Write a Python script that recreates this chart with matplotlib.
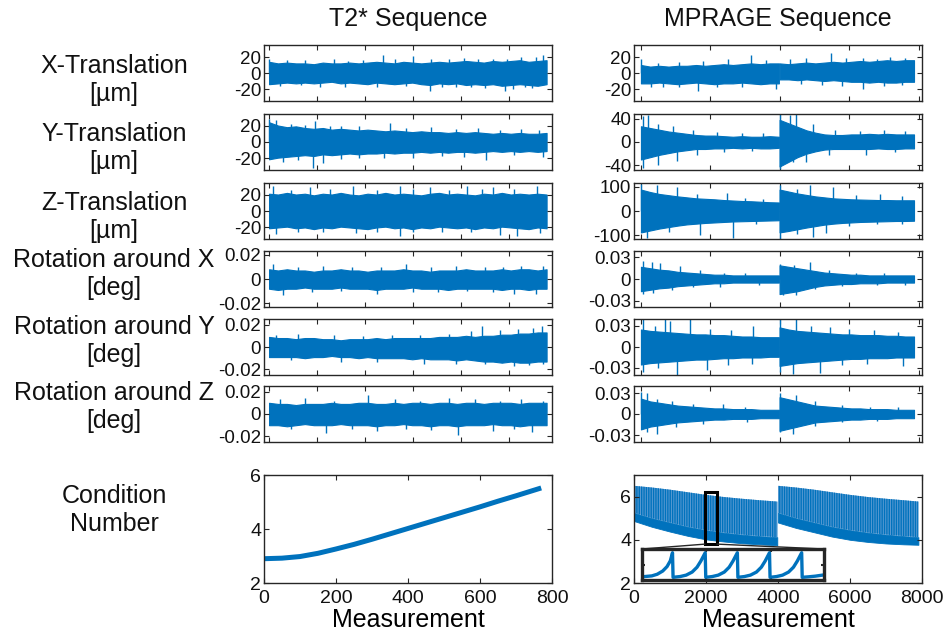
import numpy as np
import matplotlib
matplotlib.use('Agg')
import matplotlib.pyplot as plt
from matplotlib.patches import Rectangle, ConnectionPatch

plt.rcParams['font.family'] = ['Liberation Sans', 'DejaVu Sans']
plt.rcParams['hatch.linewidth'] = 1.0
BLUE = '#0072BD'
DARK = '#262626'
W, H = 945, 642

col_titles = ['T2* Sequence', 'MPRAGE Sequence']
row_labels = ['X-Translation\n[µm]', 'Y-Translation\n[µm]', 'Z-Translation\n[µm]',
              'Rotation around X\n[deg]', 'Rotation around Y\n[deg]',
              'Rotation around Z\n[deg]', 'Condition\nNumber']

# ---- T2* motion: dense core of the trace (32 knots over 0-770) + single spikes ----
t2_x_up = [14, 12, 13, 12, 12, 11, 13, 12, 12, 13, 12, 13, 14, 13, 12, 14,
           13, 12, 13, 14, 13, 14, 15, 14, 13, 15, 14, 15, 16, 14, 15, 16]
t2_x_lo = [-14, -13, -12, -13, -12, -13, -12, -11, -13, -12, -13, -14, -12, -13, -14, -13,
           -12, -14, -15, -13, -14, -13, -15, -14, -15, -14, -16, -15, -14, -15, -16, -14]
t2_x_sx = [0, 50, 100, 180, 220, 260, 316, 350, 400, 450, 500, 540, 580, 620, 660, 700, 740, 761,
           30, 90, 140, 210, 300, 380, 446, 480, 520, 560, 600, 654, 677, 710, 730]
t2_x_sy = [18, 16, 16, 17, 15, 16, 22, 18, 21, 17, 17, 19, 18, 17, 18, 20, 20, 23,
           -16, -15, -17, -17, -17, -16, -22, -18, -18, -17, -19, -22, -20, -18, -19]

t2_y_up = [24, 20, 18, 19, 17, 16, 17, 15, 16, 15, 14, 15, 14, 13, 14, 13,
           12, 13, 12, 12, 11, 12, 11, 12, 11, 10, 11, 10, 11, 10, 10, 11]
t2_y_lo = [-21, -19, -18, -17, -16, -17, -15, -16, -15, -14, -15, -14, -14, -13, -14, -13,
           -13, -12, -13, -12, -13, -12, -12, -13, -12, -11, -12, -11, -12, -11, -12, -11]
t2_y_sx = [0, 20, 60, 100, 127, 170, 200, 250, 335, 380, 450, 520, 580, 640, 700, 750,
           40, 80, 122, 150, 200, 250, 320, 400, 480, 540, 603, 680, 761]
t2_y_sy = [28, 27, 22, 21, 25, 20, 20, 19, 23, 17, 18, 16, 17, 15, 16, 14,
           -24, -22, -31, -25, -21, -20, -19, -19, -17, -18, -22, -16, -18]

t2_z_up = [21, 20, 22, 20, 21, 19, 21, 20, 22, 20, 19, 21, 20, 22, 20, 21,
           20, 19, 21, 22, 20, 21, 20, 19, 21, 20, 22, 20, 21, 20, 21, 20]
t2_z_lo = [-21, -20, -19, -21, -20, -22, -20, -21, -19, -20, -21, -22, -20, -19, -21, -20,
           -22, -20, -21, -19, -20, -21, -20, -22, -20, -21, -19, -20, -21, -22, -20, -21]
t2_z_sx = [11, 60, 113, 170, 233, 300, 363, 400, 446, 500, 548, 590, 622, 680, 742,
           20, 80, 150, 242, 300, 363, 400, 480, 560, 640, 687, 751]
t2_z_sy = [30, 26, 29, 27, 30, 26, 30, 27, 29, 26, 30, 27, 29, 27, 30,
           -28, -26, -25, -27, -25, -30, -26, -25, -26, -29, -30, -27]

t2_rx_up = [8, 7, 8, 7, 7, 6, 7, 7, 8, 7, 7, 6, 7, 7, 7, 8,
            7, 7, 6, 7, 7, 7, 8, 7, 7, 7, 8, 7, 8, 8, 7, 8]
t2_rx_lo = [-8, -9, -8, -8, -7, -8, -8, -8, -7, -8, -8, -8, -9, -8, -8, -8,
            -7, -8, -8, -8, -9, -8, -8, -8, -8, -8, -9, -8, -8, -9, -8, -8]
t2_rx_sx = [10, 80, 150, 230, 310, 380, 450, 520, 600, 650, 700, 760,
            39, 120, 200, 300, 400, 470, 550, 620, 680, 740]
t2_rx_sy = [12, 10, 11, 10, 10, 12, 10, 11, 10, 10, 11, 11,
            -13, -11, -10, -12, -11, -11, -10, -11, -12, -12]

t2_ry_up = [9, 8, 8, 7, 8, 8, 7, 7, 6, 7, 7, 7, 8, 7, 8, 8,
            8, 8, 8, 9, 9, 9, 10, 9, 10, 10, 11, 11, 12, 12, 13, 13]
t2_ry_lo = [-9, -9, -9, -9, -10, -9, -9, -8, -9, -9, -10, -9, -10, -10, -10, -10,
            -11, -10, -11, -11, -11, -12, -11, -12, -13, -13, -14, -13, -14, -14, -13, -13]
t2_ry_sx = [20, 80, 180, 260, 340, 420, 500, 560, 590, 640, 690, 733, 756,
            60, 200, 300, 430, 520, 600, 680, 720, 760]
t2_ry_sy = [11, 12, 11, 10, 11, 11, 12, 14, 19, 15, 16, 17, 19,
            -12, -13, -13, -15, -15, -15, -17, -16, -15]

t2_rz_up = [10, 9, 9, 8, 9, 9, 9, 10, 9, 9, 10, 10, 9, 9, 10, 9,
            10, 10, 9, 10, 10, 9, 10, 10, 9, 10, 10, 10, 9, 10, 10, 10]
t2_rz_lo = [-10, -10, -11, -10, -9, -10, -10, -10, -9, -10, -10, -10, -11, -10, -10, -9,
            -10, -10, -11, -10, -10, -11, -10, -10, -10, -9, -10, -10, -11, -10, -10, -10]
t2_rz_sx = [30, 100, 180, 275, 350, 420, 500, 570, 640, 700, 760,
            60, 159, 230, 300, 380, 450, 525, 620, 680, 730]
t2_rz_sy = [13, 14, 12, 17, 13, 12, 14, 13, 12, 13, 12,
            -13, -17, -13, -15, -13, -14, -19, -15, -13, -16]

# ---- MPRAGE motion: core over two halves (16 knots each) + spikes ----
mp_x_up = [10, 8, 9, 8, 9, 9, 10, 9, 10, 11, 10, 11, 12, 11, 12, 12,
           12, 11, 12, 13, 12, 13, 14, 13, 14, 15, 14, 15, 16, 15, 16, 16]
mp_x_lo = [-13, -13, -12, -13, -14, -13, -12, -13, -14, -13, -13, -12, -13, -14, -13, -13,
           -8, -8, -9, -8, -9, -10, -9, -10, -11, -11, -12, -11, -12, -12, -11, -11]
mp_x_sx = [0, 500, 1100, 1800, 2511, 3182, 3600, 4300, 4764, 5483, 5900, 6393, 6800, 7160, 7600,
           300, 642, 1100, 1649, 2200, 2900, 3901, 4600, 5200, 5800, 6393, 7000, 7500]
mp_x_sy = [18, 13, 14, 15, 18, 22, 16, 17, 19, 25, 19, 19, 18, 20, 19,
           -17, -18, -17, -22, -17, -18, -20, -14, -15, -16, -20, -16, -15]

mp_y_up = [27, 24, 21, 18, 16, 14, 12, 11, 11, 10, 9, 10, 9, 9, 10, 9,
           38, 32, 26, 20, 16, 13, 12, 12, 13, 13, 14, 13, 14, 13, 13, 13]
mp_y_lo = [-30, -26, -22, -19, -16, -14, -12, -12, -11, -11, -10, -11, -10, -11, -11, -10,
           -42, -34, -26, -20, -16, -13, -12, -12, -12, -12, -12, -11, -12, -12, -11, -11]
mp_y_sx = [67, 211, 500, 930, 1500, 2200, 2900, 3500, 3997, 4285, 4476, 4956, 5600, 6300, 7000, 7600,
           67, 498, 1025, 1600, 2400, 3200, 3997, 4380, 4764, 5400, 6489, 7300]
mp_y_sy = [45, 46, 30, 28, 20, 17, 16, 15, 48, 47, 48, 30, 20, 19, 20, 18,
           -44, -40, -32, -22, -18, -16, -47, -35, -35, -22, -22, -18]

mp_z_up = [88, 78, 70, 65, 60, 56, 52, 50, 48, 45, 43, 41, 40, 38, 36, 35,
           88, 80, 72, 66, 60, 56, 52, 50, 48, 47, 46, 45, 45, 44, 44, 44]
mp_z_lo = [-88, -80, -72, -66, -60, -55, -52, -49, -47, -45, -43, -42, -41, -40, -39, -38,
           -88, -82, -75, -68, -62, -56, -52, -49, -47, -45, -44, -43, -42, -41, -41, -40]
mp_z_sx = [0, 450, 1025, 1600, 2463, 3000, 3500, 3997, 4500, 4860, 5531, 6200, 6873, 7500,
           163, 800, 1697, 2655, 3300, 3997, 4500, 4956, 5340, 6000, 6800, 7500]
mp_z_sy = [110, 105, 100, 70, 75, 55, 50, 108, 90, 105, 100, 65, 70, 60,
           -110, -85, -100, -110, -55, -115, -95, -108, -90, -60, -55, -55]

mp_rx_up = [17, 15, 13, 12, 10, 9, 8, 7, 6, 6, 5, 5, 5, 5, 5, 5,
            19, 17, 15, 13, 11, 9, 8, 7, 6, 6, 5, 5, 5, 5, 5, 5]
mp_rx_lo = [-17, -15, -13, -12, -10, -9, -8, -7, -6, -6, -5, -5, -5, -5, -5, -5,
            -21, -19, -17, -14, -11, -9, -8, -7, -7, -6, -6, -6, -5, -5, -5, -5]
mp_rx_sx = [67, 307, 546, 1121, 1700, 2400, 3000, 3997, 4400, 4860, 5400, 6200, 7000,
            67, 355, 900, 1500, 2272, 3400, 4100, 4476, 5000, 5800, 6800, 7600]
mp_rx_sy = [25, 24, 22, 18, 12, 9, 8, 21, 20, 24, 12, 9, 8,
            -21, -19, -15, -11, -11, -8, -22, -22, -14, -10, -8, -8]

mp_ry_up = [25, 23, 22, 21, 20, 19, 18, 18, 17, 17, 16, 15, 15, 14, 14, 14,
            28, 25, 23, 22, 21, 20, 19, 18, 18, 17, 17, 17, 16, 16, 15, 15]
mp_ry_lo = [-25, -23, -22, -21, -20, -19, -18, -18, -17, -16, -16, -15, -15, -15, -14, -14,
            -27, -25, -23, -22, -21, -20, -19, -18, -17, -17, -16, -16, -16, -15, -15, -15]
mp_ry_sx = [67, 400, 690, 834, 1409, 2000, 2600, 3230, 3997, 4476, 4900, 5435, 6000, 6700, 7400,
            67, 500, 1025, 1888, 2500, 3200, 3997, 4380, 5147, 5800, 6500, 7544]
mp_ry_sy = [40, 30, 40, 37, 40, 26, 25, 30, 40, 40, 30, 28, 26, 24, 22,
            -35, -30, -40, -33, -26, -24, -35, -38, -37, -26, -24, -27]

mp_rz_up = [22, 18, 16, 14, 12, 11, 10, 9, 8, 8, 7, 7, 7, 6, 6, 6,
            24, 21, 18, 15, 12, 11, 10, 9, 8, 8, 7, 7, 7, 6, 6, 6]
mp_rz_lo = [-22, -18, -16, -14, -12, -11, -10, -9, -8, -8, -7, -7, -7, -6, -6, -6,
            -24, -21, -18, -15, -12, -11, -10, -9, -8, -8, -7, -7, -7, -6, -6, -6]
mp_rz_sx = [0, 163, 450, 900, 1500, 2368, 3000, 3997, 4476, 5000, 5800, 6600, 7400,
            163, 450, 1000, 1800, 3039, 3997, 4380, 5000, 5800, 6800]
mp_rz_sy = [32, 30, 22, 18, 15, 14, 10, 30, 27, 18, 13, 10, 10,
            -26, -29, -18, -14, -12, -26, -28, -17, -12, -10]

# ---- condition number ----
t2_cond_x = [0, 50, 100, 150, 200, 250, 300, 350, 400, 450, 500, 550, 600, 650, 700, 770]
t2_cond_y = [2.90, 2.92, 2.98, 3.10, 3.26, 3.43, 3.62, 3.82, 4.02, 4.22, 4.42, 4.62, 4.82, 5.03, 5.23, 5.52]

mp_cond_x = [0, 500, 1000, 1500, 2000, 2500, 3000, 3500, 3980,
             4000, 4500, 5000, 5500, 6000, 6500, 7000, 7500, 7900]
mp_cond_top = [6.50, 6.42, 6.32, 6.20, 6.08, 5.98, 5.90, 5.83, 5.77,
               6.50, 6.42, 6.32, 6.20, 6.08, 5.98, 5.90, 5.83, 5.77]
mp_cond_mid = [5.25, 5.00, 4.80, 4.60, 4.45, 4.33, 4.24, 4.17, 4.12,
               5.25, 5.00, 4.80, 4.60, 4.45, 4.33, 4.24, 4.17, 4.12]
mp_cond_bot = [4.87, 4.60, 4.38, 4.18, 4.02, 3.92, 3.84, 3.79, 3.75,
               4.80, 4.55, 4.35, 4.15, 4.00, 3.90, 3.83, 3.79, 3.77]

# zoomed-in window of the MPRAGE condition number (inset)
zoom_x = [1972, 2306]
zoom_y = [3.80, 6.22]
inset_x = [1972, 1990, 2000, 2010, 2018, 2024, 2028,
           2029, 2042, 2053, 2064, 2073, 2080, 2088,
           2089, 2101, 2112, 2123, 2132, 2139, 2147,
           2148, 2160, 2171, 2182, 2191, 2198, 2206,
           2207, 2219, 2230, 2241, 2250, 2257, 2265,
           2266, 2278, 2290, 2303]
inset_y = [4.05, 4.12, 4.25, 4.50, 4.85, 5.30, 5.93,
           4.01, 4.07, 4.18, 4.42, 4.80, 5.28, 5.93,
           4.01, 4.07, 4.18, 4.42, 4.80, 5.28, 5.93,
           4.01, 4.07, 4.18, 4.42, 4.80, 5.28, 5.93,
           4.01, 4.07, 4.18, 4.42, 4.80, 5.28, 5.93,
           4.01, 4.05, 4.10, 4.18]

left_rows = [(t2_x_up, t2_x_lo, t2_x_sx, t2_x_sy), (t2_y_up, t2_y_lo, t2_y_sx, t2_y_sy),
             (t2_z_up, t2_z_lo, t2_z_sx, t2_z_sy), (t2_rx_up, t2_rx_lo, t2_rx_sx, t2_rx_sy),
             (t2_ry_up, t2_ry_lo, t2_ry_sx, t2_ry_sy), (t2_rz_up, t2_rz_lo, t2_rz_sx, t2_rz_sy)]
right_rows = [(mp_x_up, mp_x_lo, mp_x_sx, mp_x_sy), (mp_y_up, mp_y_lo, mp_y_sx, mp_y_sy),
              (mp_z_up, mp_z_lo, mp_z_sx, mp_z_sy), (mp_rx_up, mp_rx_lo, mp_rx_sx, mp_rx_sy),
              (mp_ry_up, mp_ry_lo, mp_ry_sx, mp_ry_sy), (mp_rz_up, mp_rz_lo, mp_rz_sx, mp_rz_sy)]
row_scale = [1, 1, 1, 1e-3, 1e-3, 1e-3]

left_ylim = [35, 34, 34, 0.023, 0.025, 0.025]
right_ylim = [35, 48, 115, 0.039, 0.04, 0.04]
left_yt = [(20, ['-20', '0', '20'])] * 3 + [(0.02, ['-0.02', '0', '0.02'])] * 3
right_yt = [(20, ['-20', '0', '20']), (40, ['-40', '0', '40']), (100, ['-100', '0', '100'])] \
    + [(0.03, ['-0.03', '0', '0.03'])] * 3

row_top = [45, 114, 183, 251, 319, 386]
row_h = 56
label_y = [80, 148, 217, 274, 341, 407, 510]
col_left = [264, 634]
col_w = 288


def style(ax, labelsize=13.5, pad=2):
    ax.tick_params(direction='in', length=3.5, width=0.8, top=True, right=True,
                   labelsize=labelsize, color=DARK, labelcolor='#111111', pad=pad)
    for s in ax.spines.values():
        s.set_color(DARK)
        s.set_linewidth(1.0)


def add_axes(left, top, width, height):
    return fig.add_axes([left / W, 1 - (top + height) / H, width / W, height / H])


def draw_trace(ax, kx, up, lo, sx, sy, s):
    ax.fill_between(kx, np.array(lo) * s, np.array(up) * s, facecolor=BLUE,
                    edgecolor=BLUE, lw=0.8)
    ax.vlines(sx, 0, np.array(sy) * s, color=BLUE, lw=1.0)


fig = plt.figure(figsize=(W / 100, H / 100), dpi=100)

kx_left = np.linspace(0, 770, 32)
kx_right = np.concatenate([np.linspace(0, 3970, 16), np.linspace(3990, 7860, 16)])

for r in range(6):
    s = row_scale[r]
    # T2*
    ax = add_axes(col_left[0], row_top[r], col_w, row_h)
    draw_trace(ax, kx_left, *left_rows[r], s)
    ax.set_xlim(-14, 785)
    ax.set_xticks(np.arange(0, 770, 133.3))
    ax.set_xticklabels([])
    ax.set_ylim(-left_ylim[r], left_ylim[r])
    v, labs = left_yt[r]
    ax.set_yticks([-v, 0, v])
    ax.set_yticklabels(labs)
    style(ax)

    # MPRAGE
    ax = add_axes(col_left[1], row_top[r], col_w, row_h)
    up, lo, sx, sy = right_rows[r]
    draw_trace(ax, kx_right[:16], up[:16], lo[:16], [], [], s)
    draw_trace(ax, kx_right[16:], up[16:], lo[16:], sx, sy, s)
    ax.set_xlim(-200, 8090)
    ax.set_xticks([0, 2000, 4000, 6000, 8000])
    ax.set_xticklabels([])
    ax.set_ylim(-right_ylim[r], right_ylim[r])
    v, labs = right_yt[r]
    ax.set_yticks([-v, 0, v])
    ax.set_yticklabels(labs)
    style(ax)

# condition number, T2*
ax = add_axes(col_left[0], 475, col_w, 108)
ax.plot(t2_cond_x, t2_cond_y, color=BLUE, lw=3.6, solid_capstyle='butt')
ax.set_xlim(0, 800)
ax.set_ylim(2, 6)
ax.set_xticks([0, 200, 400, 600, 800])
ax.set_yticks([2, 4, 6])
ax.set_xlabel('Measurement', fontsize=18, labelpad=1)
style(ax, labelsize=14, pad=5)
ax.tick_params(axis='y', pad=2)

# condition number, MPRAGE
ax = add_axes(col_left[1], 475, col_w, 108)
mx = np.array(mp_cond_x)
for seg in (slice(0, 9), slice(9, 18)):
    ax.fill_between(mx[seg], np.array(mp_cond_bot)[seg], np.array(mp_cond_mid)[seg],
                    facecolor=BLUE, edgecolor=BLUE, lw=0.6)
    ax.fill_between(mx[seg], np.array(mp_cond_mid)[seg], np.array(mp_cond_top)[seg],
                    facecolor='#5a9ad2', edgecolor=BLUE, hatch='|' * 7, lw=0)
ax.set_xlim(0, 8000)
ax.set_ylim(2, 7)
ax.set_xticks([0, 2000, 4000, 6000, 8000])
ax.set_yticks([2, 4, 6])
ax.set_xlabel('Measurement', fontsize=18, labelpad=1)
style(ax, labelsize=14, pad=5)
ax.tick_params(axis='y', pad=2)

ax.add_patch(Rectangle((zoom_x[0], zoom_y[0]), zoom_x[1] - zoom_x[0], zoom_y[1] - zoom_y[0],
                       fill=False, ec='black', lw=2.2, zorder=5))

ins = add_axes(642, 549, 182, 31)
ins.plot(inset_x, inset_y, color=BLUE, lw=2.4)
ins.set_xlim(zoom_x)
ins.set_ylim(zoom_y)
ins.set_xticks([2090, 2208])
ins.set_yticks([5.0])
ins.set_xticklabels([])
ins.set_yticklabels([])
ins.tick_params(direction='in', length=2, width=1.5, top=True, right=True, color=DARK)
for sp in ins.spines.values():
    sp.set_color(DARK)
    sp.set_linewidth(2.4)

for xa, xb in ((0, zoom_x[0]), (1, zoom_x[1])):
    con = ConnectionPatch(xyA=(xa, 1), coordsA=ins.transAxes,
                          xyB=(xb, zoom_y[0]), coordsB=ax.transData,
                          color=DARK, lw=1.0)
    fig.add_artist(con)

# titles and row labels
for c in range(2):
    fig.text((col_left[c] + col_w / 2) / W, 1 - 19 / H, col_titles[c],
             ha='center', va='center', fontsize=18, color='#111111')
for lab, yc in zip(row_labels, label_y):
    fig.text(114 / W, 1 - yc / H, lab, ha='center', va='center', fontsize=18,
             color='#111111', linespacing=1.2)

fig.savefig('out.png', dpi=100)
